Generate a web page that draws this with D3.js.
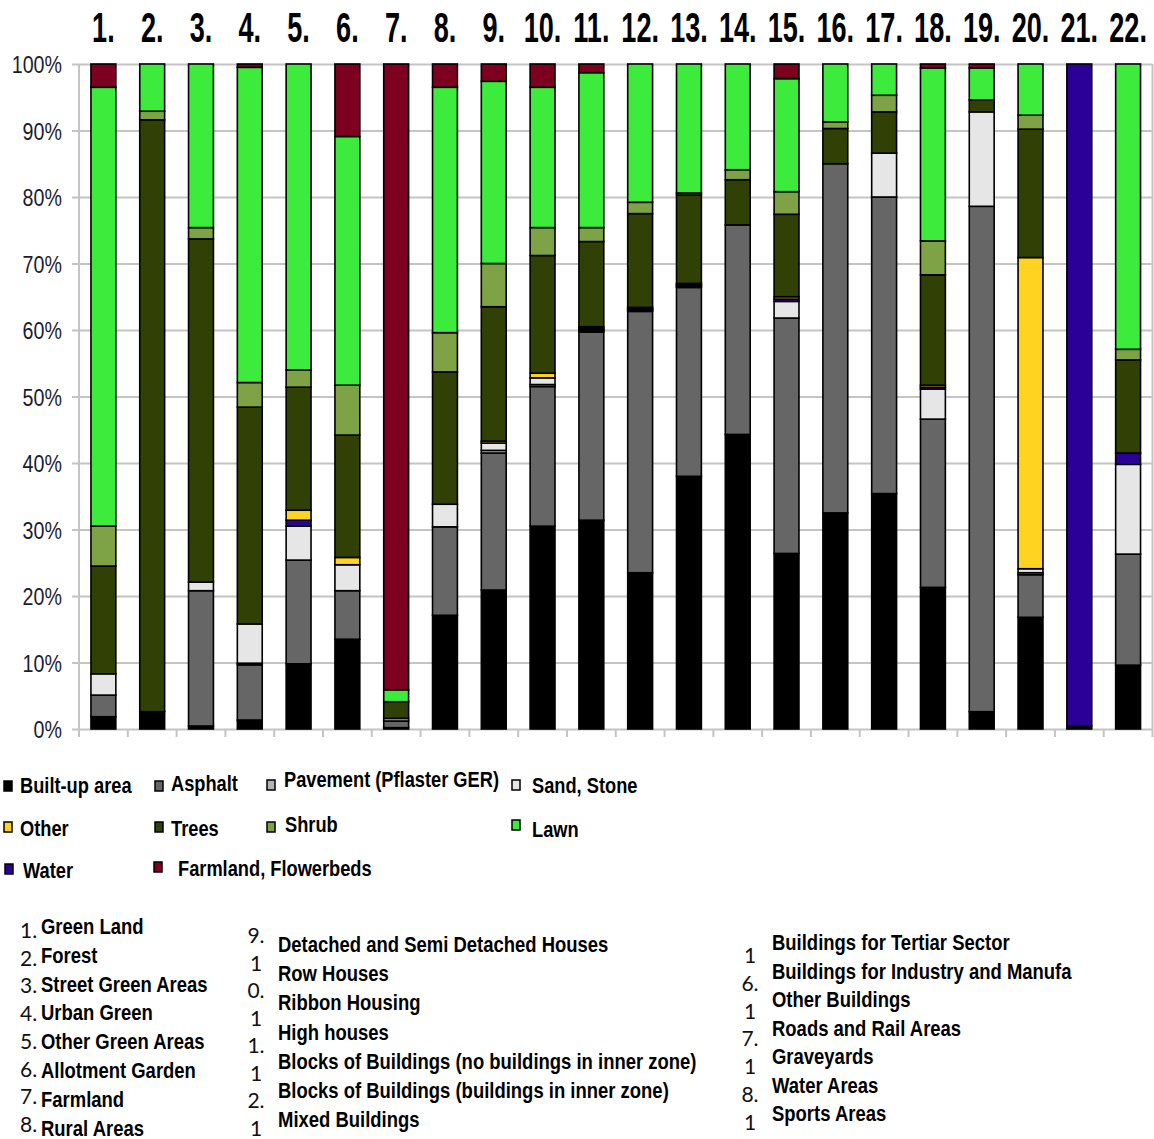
<!DOCTYPE html>
<html>
<head>
<meta charset="utf-8">
<script src="https://cdn.jsdelivr.net/npm/d3@7"></script>
<style>
  html, body { margin: 0; padding: 0; background: #ffffff; }
  svg { display: block; }
</style>
</head>
<body>
<svg id="chart" width="1154" height="1139"></svg>
<script>
// Land cover composition (percent of area) for 22 urban structure types
const categories = ["1.","2.","3.","4.","5.","6.","7.","8.","9.","10.","11.","12.","13.","14.","15.","16.","17.","18.","19.","20.","21.","22."];

const builtUp  = [1.85, 2.6, 0.45, 1.35, 9.8, 13.5, 0.2, 17.1, 20.9, 30.5, 31.4, 23.5, 38.0, 44.3, 26.4, 32.5, 35.4, 21.3, 2.6, 16.8, 0.45, 9.6];
const asphalt  = [3.25, 0, 20.35, 8.3, 15.6, 7.3, 1.0, 13.3, 20.6, 21.0, 28.3, 39.3, 28.4, 31.5, 35.4, 52.5, 44.6, 25.3, 76.0, 6.4, 0, 16.7];
const pavement = [0, 0, 0, 0.25, 0, 0, 0.4, 0, 0.4, 0.3, 0.2, 0.15, 0.15, 0, 0, 0, 0, 0, 0, 0.3, 0, 0];
const sand     = [3.2, 0, 1.3, 5.9, 5.1, 3.9, 0, 3.4, 1.1, 1.0, 0.2, 0.15, 0.15, 0, 2.5, 0, 6.6, 4.5, 14.2, 0.6, 0, 13.5];
const water    = [0, 0, 0, 0, 0.9, 0, 0, 0, 0, 0, 0.2, 0.15, 0.15, 0, 0.35, 0, 0, 0.3, 0, 0, 99.55, 1.7];
const other    = [0, 0, 0, 0, 1.5, 1.1, 0, 0, 0.3, 0.7, 0.2, 0.15, 0.15, 0, 0.35, 0, 0, 0.3, 0, 46.8, 0, 0];
const trees    = [16.2, 89.0, 51.6, 32.6, 18.5, 18.4, 2.5, 19.9, 20.2, 17.7, 12.8, 14.1, 13.3, 6.8, 12.4, 5.3, 6.2, 16.6, 1.8, 19.3, 0, 14.0];
const shrub    = [6.0, 1.3, 1.7, 3.7, 2.6, 7.5, 0, 5.9, 6.5, 4.2, 2.1, 1.7, 0.3, 1.5, 3.4, 1.0, 2.5, 5.1, 0, 2.1, 0, 1.6];
const lawn     = [66.0, 7.1, 24.6, 47.4, 46.0, 37.4, 1.8, 36.9, 27.4, 21.1, 23.3, 20.8, 19.4, 15.9, 17.0, 8.7, 4.7, 26.0, 4.8, 7.7, 0, 42.9];
const farmland = [3.5, 0, 0, 0.5, 0, 10.9, 94.1, 3.5, 2.6, 3.5, 1.3, 0, 0, 0, 2.2, 0, 0, 0.6, 0.6, 0, 0, 0];

const seriesKeys   = ["builtUp","asphalt","pavement","sand","water","other","trees","shrub","lawn","farmland"];
const seriesValues = [builtUp, asphalt, pavement, sand, water, other, trees, shrub, lawn, farmland];
const seriesNames  = ["Built-up area","Asphalt","Pavement (Pflaster GER)","Sand, Stone","Water","Other","Trees","Shrub","Lawn","Farmland, Flowerbeds"];
const seriesColors = ["#000000","#666666","#b3b3b3","#e6e6e6","#2a0099","#ffd320","#314004","#7ea346","#3deb3d","#7e0021"];

const yTicks = [0,10,20,30,40,50,60,70,80,90,100];

// Structure type names and the (wrapped) numbering shown beside them
const typesCol1 = ["Green Land","Forest","Street Green Areas","Urban Green","Other Green Areas","Allotment Garden","Farmland","Rural Areas"];
const numsCol1  = ["1.","2.","3.","4.","5.","6.","7.","8."];
const typesCol2 = ["Detached and Semi Detached Houses","Row Houses","Ribbon Housing","High houses","Blocks of Buildings (no buildings in inner zone)","Blocks of Buildings (buildings in inner zone)","Mixed Buildings"];
const numsCol2  = ["9.","1","0.","1","1.","1","2.","1"];
const typesCol3 = ["Buildings for Tertiar Sector","Buildings for Industry and Manufa","Other Buildings","Roads and Rail Areas","Graveyards","Water Areas","Sports Areas"];
const numsCol3  = ["1","6.","1","7.","1","8.","1"];

// ---- layout ----
const NARROW = 0.82;             // condensed sans: Liberation Sans squeezed horizontally
const FONT = "'Liberation Sans', Arial, sans-serif";

const svg = d3.select("#chart");
svg.append("rect").attr("width", 1154).attr("height", 1139).attr("fill", "#fff");

const plot = { left: 79, right: 1152.5, top: 64, bottom: 729 };

const x = d3.scaleBand().domain(categories).range([plot.left, plot.right])
  .paddingInner(0.49).paddingOuter(0.245);
const y = d3.scaleLinear().domain([0, 100]).range([plot.bottom, plot.top]);
const color = d3.scaleOrdinal().domain(seriesKeys).range(seriesColors);

// condensed text placed at (px, py)
function narrowText(sel, px, py, sy, sx) {
  return sel.attr("font-family", FONT)
    .attr("transform", (d, i) => {
      const tx = typeof px === "function" ? px(d, i) : px;
      const ty = typeof py === "function" ? py(d, i) : py;
      return `translate(${tx},${ty}) scale(${sx || NARROW},${sy || 1})`;
    });
}

// table for the stack layout
const table = categories.map((c, i) => {
  const row = { cat: c };
  seriesKeys.forEach((k, j) => { row[k] = seriesValues[j][i]; });
  return row;
});
const stacked = d3.stack().keys(seriesKeys)(table);

// gridlines + y labels
const yAxis = d3.axisLeft(y).tickValues(yTicks).tickFormat(d => d + "%")
  .tickSizeInner(-(plot.right - plot.left)).tickSizeOuter(0).tickPadding(17);
const gy = svg.append("g").attr("transform", `translate(${plot.left},0)`).call(yAxis);
gy.select(".domain").remove();
gy.selectAll(".tick line").attr("x1", -7).attr("stroke", "#c4c4c4").attr("stroke-width", 2);
gy.selectAll(".tick text")
  .attr("x", null).attr("dy", null)
  .attr("font-size", 24).attr("fill", "#1c1c2c")
  .attr("font-family", FONT)
  .attr("transform", `translate(-17,8.5) scale(${NARROW},1)`);

// left axis line and right frame line
svg.append("line").attr("x1", plot.left).attr("x2", plot.left)
  .attr("y1", plot.top).attr("y2", plot.bottom + 8).attr("stroke", "#c4c4c4").attr("stroke-width", 2);
svg.append("line").attr("x1", plot.right).attr("x2", plot.right)
  .attr("y1", plot.top).attr("y2", plot.bottom).attr("stroke", "#c4c4c4").attr("stroke-width", 2);

// category boundary ticks below the baseline
const half = (x.step() - x.bandwidth()) / 2;
const bounds = categories.map(c => x(c) - half).concat([x(categories[categories.length - 1]) + x.bandwidth() + half]);
svg.append("g").selectAll("line").data(bounds).join("line")
  .attr("x1", d => d).attr("x2", d => d)
  .attr("y1", plot.bottom).attr("y2", plot.bottom + 8)
  .attr("stroke", "#c4c4c4").attr("stroke-width", 2);

// stacked bars
svg.append("g").selectAll("g").data(stacked).join("g")
  .attr("fill", d => color(d.key))
  .selectAll("rect").data(d => d.filter(s => s[1] - s[0] > 0)).join("rect")
  .attr("x", d => x(d.data.cat))
  .attr("width", x.bandwidth())
  .attr("y", d => y(d[1]))
  .attr("height", d => y(d[0]) - y(d[1]))
  .attr("stroke", "#000").attr("stroke-width", 1.6);

// category numbers above the bars
narrowText(
  svg.append("g").selectAll("text").data(categories).join("text"),
  d => x(d) + x.bandwidth() / 2, 42, 1.27)
  .attr("text-anchor", "middle")
  .attr("font-size", 33).attr("font-weight", "bold").attr("fill", "#000")
  .text(d => d);

// legend (three rows)
const legendPos = {
  builtUp:  { sx: 4,   sy: 781, tx: 20,  ty: 793 },
  asphalt:  { sx: 155, sy: 781, tx: 171, ty: 791 },
  pavement: { sx: 267, sy: 780, tx: 284, ty: 787 },
  sand:     { sx: 512, sy: 780, tx: 532, ty: 793 },
  other:    { sx: 4,   sy: 822, tx: 20,  ty: 836 },
  trees:    { sx: 155, sy: 822, tx: 171, ty: 836 },
  shrub:    { sx: 267, sy: 822, tx: 285, ty: 832 },
  lawn:     { sx: 512, sy: 820, tx: 532, ty: 837 },
  water:    { sx: 5,   sy: 864, tx: 23,  ty: 878 },
  farmland: { sx: 154, sy: 862, tx: 178, ty: 876 }
};
const lg = svg.append("g");
seriesKeys.forEach((k, j) => {
  const p = legendPos[k];
  lg.append("rect").attr("x", p.sx).attr("y", p.sy).attr("width", 8).attr("height", 10)
    .attr("fill", seriesColors[j]).attr("stroke", "#000").attr("stroke-width", 1.5);
  narrowText(lg.append("text"), p.tx, p.ty, 1, 0.83)
    .attr("font-size", 22).attr("font-weight", "bold").attr("fill", "#000")
    .text(seriesNames[j]);
});

// structure type list
const list = svg.append("g");
function labels(arr, x0, y0, dy) {
  narrowText(list.append("g").selectAll("text").data(arr).join("text"),
    x0, (d, i) => y0 + i * dy, 1, 0.84)
    .attr("font-size", 22).attr("font-weight", "bold").attr("fill", "#000")
    .text(d => d);
}
function numbers(arr, x0, y0, dy, anchor) {
  list.append("g").selectAll("text").data(arr).join("text")
    .attr("x", x0).attr("y", (d, i) => y0 + i * dy)
    .attr("text-anchor", anchor)
    .attr("font-family", "Lato, 'Open Sans', sans-serif")
    .attr("font-size", 21).attr("fill", "#111")
    .text(d => d);
}
numbers(numsCol1, 20, 938, 27.7, "start");
labels(typesCol1, 41, 934, 28.8);
numbers(numsCol2, 256, 943, 27.5, "middle");
labels(typesCol2, 278, 952, 29.2);
numbers(numsCol3, 750, 963, 27.8, "middle");
labels(typesCol3, 772, 950, 28.5);
</script>
</body>
</html>
